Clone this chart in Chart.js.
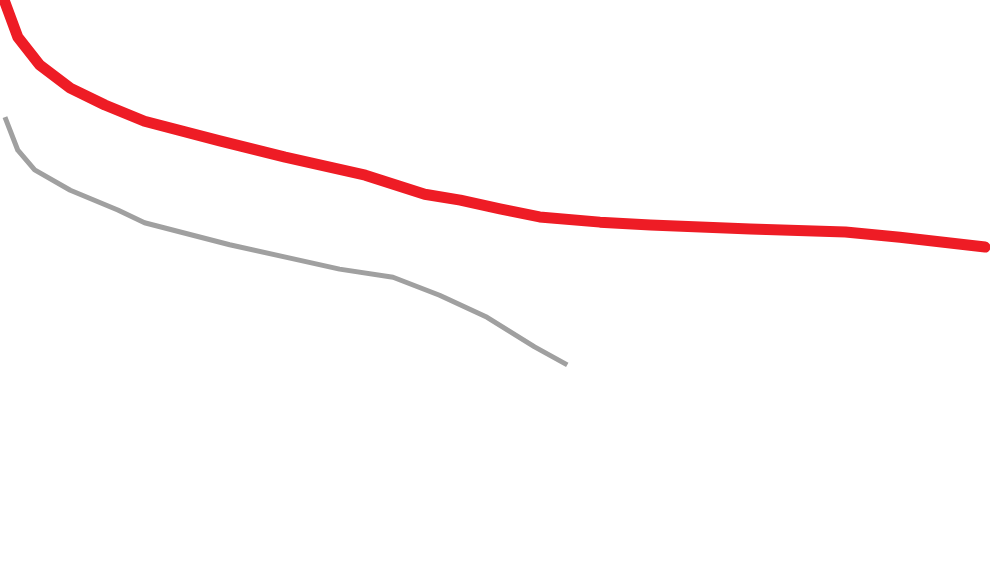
<!DOCTYPE html>
<html>
<head>
<meta charset="utf-8">
<script src="https://cdn.jsdelivr.net/npm/chart.js@4"></script>
<style>
  html, body { margin: 0; padding: 0; background: #fff; }
  #wrap { width: 990px; height: 580px; }
</style>
</head>
<body>
<div id="wrap"><canvas id="chart"></canvas></div>
<script>
// Red series (x position 0-100, value 0-100)
const redX = [0.5, 1.8, 4.0, 7.1, 10.6, 14.6, 22.2, 28.8, 36.9, 42.9, 46.5, 50.5, 54.5, 60.6, 65.7, 75.8, 85.4, 90.9, 99.5];
const redY = [99.6, 93.6, 88.8, 84.8, 81.9, 79.1, 75.7, 72.9, 69.8, 66.5, 65.5, 64.0, 62.6, 61.7, 61.2, 60.5, 60.0, 59.1, 57.4];

// Gray series
const grayX = [0.5, 1.8, 3.5, 7.1, 11.9, 14.6, 23.2, 29.3, 34.3, 39.7, 44.4, 49.2, 54.0, 57.3];
const grayY = [79.8, 74.1, 70.7, 67.2, 63.8, 61.6, 57.8, 55.5, 53.6, 52.2, 49.1, 45.3, 40.2, 37.1];

function toPoints(xs, ys) {
    return xs.map((x, i) => ({ x: x, y: ys[i] }));
}

const ctx = document.getElementById('chart').getContext('2d');
new Chart(ctx, {
    type: 'line',
    data: {
        datasets: [
            {
                data: toPoints(redX, redY),
                borderColor: '#ee1c25',
                borderWidth: 11,
                borderCapStyle: 'round',
                borderJoinStyle: 'round',
                pointRadius: 0,
                tension: 0
            },
            {
                data: toPoints(grayX, grayY),
                borderColor: '#a0a0a0',
                borderWidth: 5,
                borderJoinStyle: 'round',
                pointRadius: 0,
                tension: 0
            }
        ]
    },
    options: {
        responsive: true,
        maintainAspectRatio: false,
        animation: false,
        layout: { padding: 0 },
        plugins: {
            legend: { display: false },
            tooltip: { enabled: false }
        },
        scales: {
            x: { type: 'linear', min: 0, max: 100, display: false },
            y: { min: 0, max: 100, display: false }
        }
    },
    plugins: []
});
</script>
</body>
</html>
